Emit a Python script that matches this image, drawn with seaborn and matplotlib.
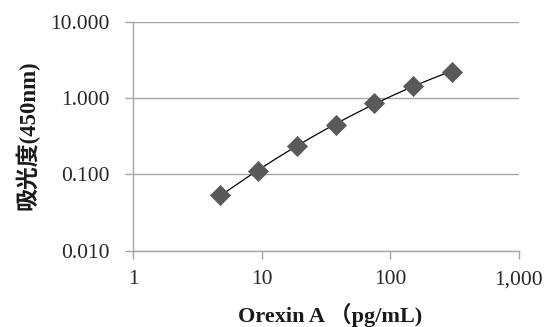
import numpy as np
import pandas as pd
import matplotlib
matplotlib.use("Agg")
import matplotlib.pyplot as plt
import matplotlib.ticker as mticker
import seaborn as sns

# Data
concentration = [4.69, 9.38, 18.75, 37.5, 75, 150, 300]   # pg/mL
absorbance = [0.053, 0.110, 0.235, 0.452, 0.87, 1.44, 2.22]  # OD 450nm
x_ticks = [1, 10, 100, 1000]
x_tick_labels = ["1", "10", "100", "1,000"]
y_ticks = [0.01, 0.1, 1, 10]
y_tick_labels = ["0.010", "0.100", "1.000", "10.000"]

sns.set_theme(style="white")
plt.rcParams['font.family'] = ['Liberation Serif', 'Noto Sans CJK JP', 'DejaVu Sans']

df = pd.DataFrame({"conc": concentration, "od": absorbance})

# trendline: quadratic fit in log-log space
coef = np.polyfit(np.log10(df["conc"]), np.log10(df["od"]), 2)
xs = np.logspace(np.log10(min(concentration)), np.log10(max(concentration)), 200)
fit = pd.DataFrame({"conc": xs, "od": 10 ** np.polyval(coef, np.log10(xs))})

fig = plt.figure(figsize=(5.58, 3.27), dpi=100)
L, R, T, B = 133.3, 518.7, 22.0, 250.7
ax = fig.add_axes([L / 558, 1 - B / 327, (R - L) / 558, (B - T) / 327])

ax.set_xscale("log")
ax.set_yscale("log")
ax.set_xlim(1, 1000)
ax.set_ylim(0.01, 10)

ax.yaxis.grid(True, color="#a6a6a6", linewidth=1.0)
ax.xaxis.grid(False)
ax.set_axisbelow(True)

sns.lineplot(data=fit, x="conc", y="od", ax=ax, color="black", linewidth=0.9, zorder=3)
sns.scatterplot(data=df, x="conc", y="od", ax=ax, marker="D", s=105,
                color="#595959", edgecolor="#595959", linewidth=0.5, zorder=4)

ax.xaxis.set_major_locator(mticker.FixedLocator(x_ticks))
ax.xaxis.set_minor_locator(mticker.NullLocator())
ax.set_xticklabels(x_tick_labels)
ax.yaxis.set_major_locator(mticker.FixedLocator(y_ticks))
ax.yaxis.set_minor_locator(mticker.NullLocator())
ax.set_yticklabels(y_tick_labels)

for side in ["top", "right"]:
    ax.spines[side].set_visible(False)
for side in ["left", "bottom"]:
    ax.spines[side].set_color("#a6a6a6")
    ax.spines[side].set_linewidth(1.0)

ax.tick_params(axis="x", which="major", length=6, width=1, color="#a6a6a6",
               direction="out", bottom=True, pad=8, labelsize=15.5, labelcolor="#262626")
ax.tick_params(axis="y", which="major", length=6, width=1, color="#a6a6a6",
               direction="out", left=True, pad=11, labelsize=15.5, labelcolor="#262626")

ax.set_xlabel("Orexin A （pg/mL)", fontsize=16, fontweight="bold", color="#1a1a1a")
ax.set_ylabel("吸光度(450nm)", fontsize=16.5, fontweight="bold", color="#1a1a1a")
ax.xaxis.set_label_coords((330 - L) / (R - L), -(315 - B) / (B - T))
ax.yaxis.set_label_coords(-(L - 27) / (R - L), (B - 135) / (B - T))
ax.xaxis.label.set_va("center")
ax.yaxis.label.set_va("center")

fig.savefig("out.png", dpi=100, facecolor="white")
